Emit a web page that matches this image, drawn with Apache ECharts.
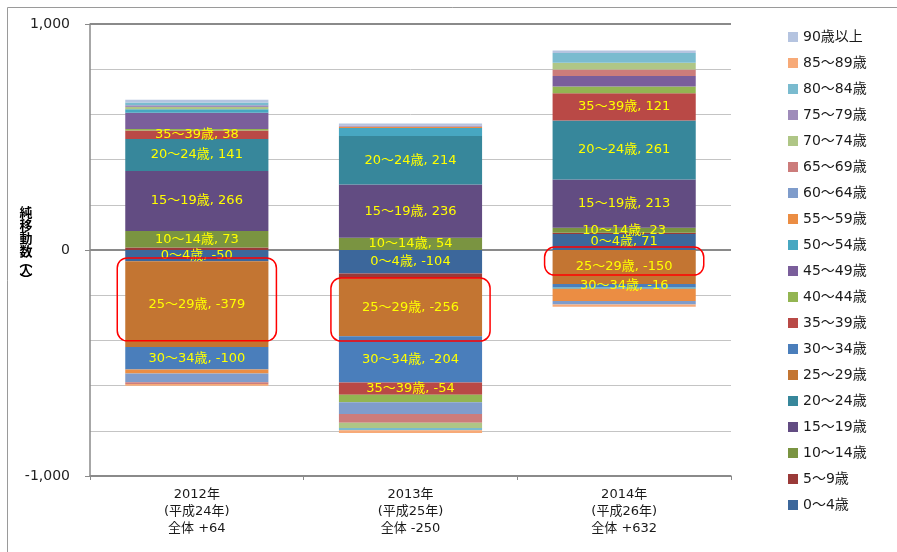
<!DOCTYPE html>
<html>
<head>
<meta charset="utf-8">
<script src="https://cdn.jsdelivr.net/npm/echarts@6/dist/echarts.min.js"></script>
<style>
html,body{margin:0;padding:0;background:#fff;}
#chart{width:897px;height:552px;}
</style>
</head>
<body>
<div id="chart"></div>
<script>
// ---- data ----
const categories = ['2012年\n(平成24年)\n全体 +64', '2013年\n(平成25年)\n全体 -250', '2014年\n(平成26年)\n全体 +632'];
const ageGroups = ['0～4歳','5～9歳','10～14歳','15～19歳','20～24歳','25～29歳','30～34歳','35～39歳','40～44歳','45～49歳','50～54歳','55～59歳','60～64歳','65～69歳','70～74歳','75～79歳','80～84歳','85～89歳','90歳以上'];
const values2012 = [-50, 11, 73, 266, 141, -379, -100, 38, 6, 72, 16, -18, -38, -8, 10, 8, 12, -8, 12];
const values2013 = [-104, -22, 54, 236, 214, -256, -204, -54, -34, 0, 36, 5, -52, -38, -24, 6, -10, -12, 9];
const values2014 = [71, 5, 23, 213, 261, -150, -16, 121, 29, 47, -5, -55, -15, 29, 29, 0, 44, -10, 11];
const labelledGroups = ['0～4歳','10～14歳','15～19歳','20～24歳','25～29歳','30～34歳','35～39歳'];
// value ranges enclosed by the red annotation boxes
const boxTop = [-35, -124, 13];
const boxBottom = [-402, -403, -111];
const yTicks = [-1000, 0, 1000];
const yAxisTitle = '{a|純}\n{a|移}\n{a|動}\n{a|数}\n{p|︵}\n{b|人}\n{p|︶}';

// ---- styles ----
const colors = ['#3C679B','#9A3A38','#7A9441','#624C82','#37879B','#C37532','#4A7EBB','#B94946','#93B552','#7A5E9B','#47A7C1','#EB8D43','#7F9CCB','#CC7C7B','#AFC686','#9F8CBA','#7ABBCF','#F7AA78','#B5C4E0'];
const FONT = '"DejaVu Sans", "Noto Sans CJK JP", sans-serif';
const TITLE_FONT = '"Noto Sans CJK JP", sans-serif';

const chart = echarts.init(document.getElementById('chart'), null, {renderer: 'canvas'});

const yearValues = [values2012, values2013, values2014];
const series = ageGroups.map((name, i) => ({
  name: name,
  type: 'bar',
  stack: 'total',
  barCategoryGap: '33%',
  itemStyle: {color: colors[i]},
  label: {
    show: labelledGroups.includes(name),
    position: 'inside',
    formatter: p => p.seriesName + ', ' + p.value,
    color: '#FFFF00',
    fontSize: 13,
    fontFamily: FONT
  },
  emphasis: {disabled: true},
  data: yearValues.map(v => v[i])
}));

chart.setOption({
  animation: false,
  backgroundColor: '#ffffff',
  color: colors,
  textStyle: {fontFamily: FONT},
  grid: {left: 90, right: 166, top: 24, bottom: 76},
  legend: {
    orient: 'vertical',
    left: 783,
    top: 25,
    itemWidth: 10,
    itemHeight: 10,
    itemGap: 12,
    icon: 'rect',
    data: ageGroups.slice().reverse(),
    textStyle: {fontSize: 14, color: '#1a1a1a', fontFamily: FONT}
  },
  xAxis: {
    type: 'category',
    data: categories,
    axisLine: {onZero: false, lineStyle: {color: '#8a8a8a', width: 1.5}},
    axisTick: {show: true, length: 4, lineStyle: {color: '#8a8a8a'}},
    axisLabel: {margin: 10, fontSize: 13, lineHeight: 17, color: '#1a1a1a', fontFamily: FONT},
    splitLine: {show: false}
  },
  yAxis: {
    type: 'value',
    min: -1000,
    max: 1000,
    interval: 1000,
    axisLine: {show: true, lineStyle: {color: '#8a8a8a', width: 1.5}},
    axisTick: {show: true, length: 5, lineStyle: {color: '#8a8a8a'}},
    axisLabel: {
      margin: 20,
      fontSize: 14,
      color: '#222',
      fontFamily: FONT,
      formatter: v => yTicks.includes(v) ? v.toLocaleString('en-US') : ''
    },
    splitLine: {show: true, lineStyle: {color: '#8a8a8a', width: 2}},
    minorTick: {show: false, splitNumber: 5},
    minorSplitLine: {show: true, lineStyle: {color: '#c4c4c4', width: 1}}
  },
  series: series
});

// annotation boxes around the 25～29 segments, axis title and frame
function drawExtras() {
  const graphics = [];
  const p0 = chart.convertToPixel({xAxisIndex: 0, yAxisIndex: 0}, [0, 0]);
  const p1 = chart.convertToPixel({xAxisIndex: 0, yAxisIndex: 0}, [1, 0]);
  const catW = p1[0] - p0[0];
  const halfW = catW * 0.67 / 2 + 8;
  categories.forEach((c, i) => {
    const a = chart.convertToPixel({xAxisIndex: 0, yAxisIndex: 0}, [i, boxTop[i]]);
    const b = chart.convertToPixel({xAxisIndex: 0, yAxisIndex: 0}, [i, boxBottom[i]]);
    graphics.push({
      type: 'rect',
      shape: {x: a[0] - halfW, y: a[1], width: halfW * 2, height: b[1] - a[1], r: 10},
      style: {fill: 'none', stroke: '#FF0000', lineWidth: 1.5},
      z: 100
    });
  });
  graphics.push({
    type: 'text',
    x: 26,
    y: 244,
    style: {
      text: yAxisTitle,
      fill: '#000',
      align: 'center',
      verticalAlign: 'middle',
      rich: {
        a: {fontFamily: TITLE_FONT, fontSize: 13, fontWeight: 'bold', lineHeight: 13, fill: '#000', align: 'center'},
        b: {fontFamily: TITLE_FONT, fontSize: 12, fontWeight: 'bold', lineHeight: 11, fill: '#000', align: 'center'},
        p: {fontFamily: TITLE_FONT, fontSize: 13, fontWeight: 'bold', lineHeight: 7, fill: '#000', align: 'center'}
      }
    },
    z: 100
  });
  graphics.push({
    type: 'rect',
    shape: {x: 7.5, y: 7.5, width: 1000, height: 1000},
    style: {fill: 'none', stroke: '#9a9a9a', lineWidth: 1},
    z: 100
  });
  chart.setOption({graphic: graphics});
}
drawExtras();
</script>
</body>
</html>
